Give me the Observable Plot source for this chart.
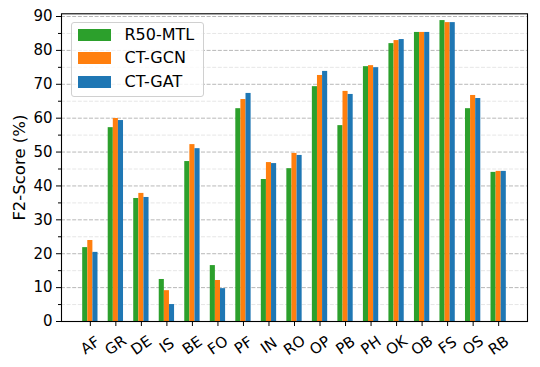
<!DOCTYPE html>
<html>
<head>
<meta charset="utf-8">
<script src="https://cdn.jsdelivr.net/npm/d3@7"></script>
<script src="https://cdn.jsdelivr.net/npm/@observablehq/plot@0.6"></script>
<style>
  body { margin: 0; background: #fff; }
  #wrap { position: relative; width: 540px; height: 367px; font-family: "DejaVu Sans", sans-serif; }
  #legend { position: absolute; left: 70.5px; top: 21.5px; width: 131px; height: 73px;
            border: 1px solid #d0d0d0; border-radius: 3px; background: rgba(255,255,255,0.8); }
  .sw { position: absolute; width: 33px; height: 12px; }
  .lt { position: absolute; font-size: 16px; line-height: 16px; color: #000; white-space: nowrap; }
</style>
</head>
<body>
<div id="wrap"></div>
<script>
const categories = ["AF","GR","DE","IS","BE","FO","PF","IN","RO","OP","PB","PH","OK","OB","FS","OS","RB"];
const seriesNames = ["R50-MTL","CT-GCN","CT-GAT"];
const seriesColors = ["#2ca02c","#ff7f0e","#1f77b4"];
const r50mtl = [21.8,57.2,36.3,12.4,47.2,16.5,62.8,41.9,45.1,69.3,57.8,75.2,82.0,85.3,88.8,62.8,44.0];
const ctgcn  = [23.9,59.9,37.8, 9.1,52.2,12.1,65.5,46.9,49.6,72.6,67.9,75.5,82.9,85.3,88.2,66.7,44.3];
const ctgat  = [20.4,59.3,36.6, 5.0,51.0, 9.7,67.3,46.6,49.0,73.8,67.0,74.9,83.2,85.3,88.2,65.8,44.3];
const majorTicks = [0,10,20,30,40,50,60,70,80,90];
const minorTicks = [5,15,25,35,45,55,65,75,85];
const yLabel = "F2-Score (%)";

const valuesBySeries = [r50mtl, ctgcn, ctgat];
const rows = [];
seriesNames.forEach((s, si) => valuesBySeries[si].forEach((v, ci) => rows.push({series: s, si, ci, value: v})));
const barWidth = 0.2;

const chart = Plot.plot({
  width: 540,
  height: 367,
  marginLeft: 61,
  marginRight: 13,
  marginTop: 13.3,
  marginBottom: 46,
  style: { fontFamily: "DejaVu Sans, sans-serif", background: "#fff", color: "#000" },
  x: { domain: [-1.13, 17.13], axis: null },
  y: { domain: [0, 90.8], axis: null },
  color: { domain: seriesNames, range: seriesColors },
  marks: [
    Plot.ruleY(minorTicks, { stroke: "#e6e6e6", strokeDasharray: "4,1.6", strokeWidth: 1 }),
    Plot.ruleY(majorTicks.filter(t => t > 0), { stroke: "#b8b8b8", strokeDasharray: "4,1.6", strokeWidth: 1 }),
    Plot.rect(rows, {
      x1: d => d.ci + (d.si - 1) * barWidth - barWidth / 2,
      x2: d => d.ci + (d.si - 1) * barWidth + barWidth / 2,
      y1: () => 0,
      y2: "value",
      fill: "series"
    }),
    Plot.axisY(majorTicks, { tickSize: 5, tickPadding: 4, fontSize: 15, stroke: "#000", fill: "#000", label: null }),
    Plot.axisY(minorTicks, { tickSize: 3, tickFormat: () => "", stroke: "#000", label: null }),
    Plot.axisX(d3.range(categories.length), { tickSize: 5, tickFormat: () => "", stroke: "#000", label: null }),
    Plot.text(categories, {
      x: (d, i) => i, text: d => d, frameAnchor: "bottom", dy: 24, rotate: -35,
      fontSize: 15, textAnchor: "middle", lineAnchor: "middle", fill: "#000"
    }),
    Plot.text([yLabel], {
      text: d => d, frameAnchor: "left", dx: -41.5, rotate: -90, fontSize: 16.5,
      textAnchor: "middle", lineAnchor: "middle", fill: "#000"
    }),
    Plot.frame({ stroke: "#000", strokeWidth: 1.1 })
  ]
});

const wrap = document.getElementById("wrap");
wrap.appendChild(chart);

const legend = document.createElement("div");
legend.id = "legend";
wrap.appendChild(legend);
seriesNames.forEach((s, i) => {
  const sw = document.createElement("div");
  sw.className = "sw";
  sw.style.left = "6px";
  sw.style.top = (6.5 + i * 23.4) + "px";
  sw.style.background = seriesColors[i];
  legend.appendChild(sw);
  const t = document.createElement("div");
  t.className = "lt";
  t.style.left = "53px";
  t.style.top = (4.5 + i * 23.4) + "px";
  t.textContent = s;
  legend.appendChild(t);
});
</script>
</body>
</html>
